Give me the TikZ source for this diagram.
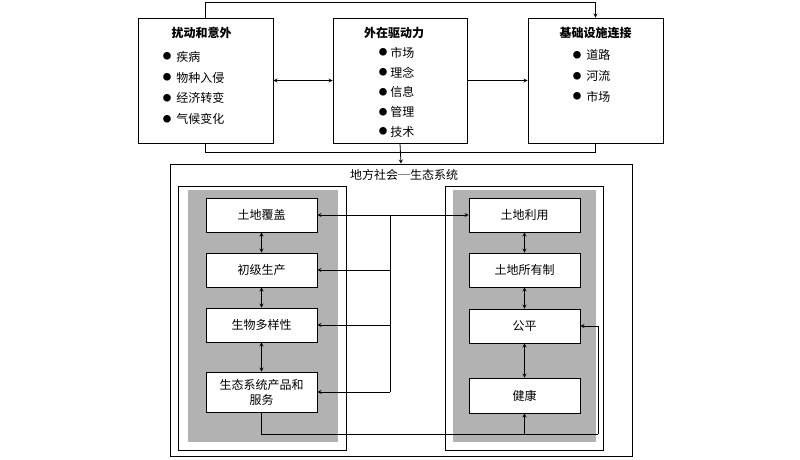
\documentclass[tikz,border=0pt]{standalone}
\usepackage{fontspec}
\setmainfont{Noto Sans CJK SC}
\usetikzlibrary{arrows}
\newcommand{\itemdot}[1][5pt]{\raisebox{1.4pt}{\fontsize{8.5}{8.5}\selectfont ●}\hspace{#1}}
\tikzstyle{topbox} = [rectangle, draw, line width=0.8pt, minimum width=135pt, minimum height=125pt]
\tikzstyle{heading} = [font=\bfseries\fontsize{12}{14}\selectfont]
\tikzstyle{items} = [anchor=north west, align=left, inner sep=0pt, font=\fontsize{12}{20.7}\selectfont]
\tikzstyle{frame} = [rectangle, draw, line width=0.8pt, minimum height=264pt]
\tikzstyle{shade} = [fill=black!30]
\tikzstyle{process} = [rectangle, draw, line width=0.8pt, fill=white, minimum width=111pt, minimum height=34pt, text centered, align=center, font=\fontsize{12}{15}\selectfont]
\tikzstyle{arrow} = [line width=0.8pt,->,>=stealth]
\tikzstyle{darrow} = [line width=0.8pt,<->,>=stealth]
\tikzstyle{line} = [line width=0.8pt]
\begin{document}
\begin{tikzpicture}[x=1pt, y=-1pt]
            \useasboundingbox (0,0) rectangle (800,459);
            \node [topbox] at (205.5,80.5) (disturb) {};
            \node [topbox, minimum width=134pt] at (400,80.5) (driver) {};
            \node [topbox] at (595.5,80.5) (infra) {};
            \node [heading] at (201.5,33) (disturbtitle) {扰动和意外};
            \node [heading] at (394,33) (drivertitle) {外在驱动力};
            \node [heading] at (595.5,33) (infratitle) {基础设施连接};
            \node [items] at (162.75,51) (disturblist) {\itemdot 疾病\\\itemdot 物种入侵\\\itemdot 经济转变\\\itemdot 气候变化};
            \node [items, font=\fontsize{12}{19.75}\selectfont] at (378.75,47) (driverlist) {\itemdot[2.8pt]市场\\\itemdot[2.8pt]理念\\\itemdot[2.8pt]信息\\\itemdot[2.8pt]管理\\\itemdot[2.8pt]技术};
            \node [items] at (572.75,49.5) (infralist) {\itemdot 道路\\\itemdot 河流\\\itemdot 市场};

            \node [rectangle, draw, line width=0.8pt, minimum width=462pt, minimum height=292pt] at (401,310) (ses) {};
            \node at (404,175) (sestitle) {\fontsize{12}{14}\selectfont 地方社会─生态系统};
            \node [frame, minimum width=168pt] at (262,318) (ecoframe) {};
            \node [frame, minimum width=158pt] at (524,318) (socframe) {};
            \fill [shade] (188,190) rectangle (338,442);
            \fill [shade] (453,190) rectangle (596,442);

            \node [process] at (261.5,215) (cover) {土地覆盖};
            \node [process] at (261.5,270) (prod) {初级生产};
            \node [process] at (261.5,325) (biodiv) {生物多样性};
            \node [process, minimum height=40pt] at (261.5,392) (service) {生态系统产品和\\服务};
            \node [process] at (524.5,215) (use) {土地利用};
            \node [process] at (524.5,270) (tenure) {土地所有制};
            \node [process] at (524.5,326) (equity) {公平};
            \node [process, minimum height=35pt] at (524.5,395.5) (health) {健康};

            \draw [arrow] (disturb.north) -- ++(0,-15) -| (infra.north);
            \draw [line] (disturb.south) -- ++(0,9) -| (infra.south);
            \draw [arrow] (driver.south) -- (ses.north);
            \draw [darrow] (disturb) -- (driver);
            \draw [arrow] (driver) -- (infra);

            \draw [darrow] (cover) -- (use);
            \coordinate (bus) at (390,215);
            \draw [line] (bus) -- (bus |- service);
            \draw [arrow] (bus |- prod) -- (prod.east);
            \draw [arrow] (bus |- biodiv) -- (biodiv.east);
            \draw [arrow] (bus |- service) -- (service.east);
            \draw [darrow] (cover) -- (prod);
            \draw [darrow] (prod) -- (biodiv);
            \draw [darrow] (biodiv) -- (service);
            \draw [darrow] (use) -- (tenure);
            \draw [darrow] (tenure) -- (equity);
            \draw [darrow] (equity) -- (health);
            \coordinate (loop) at (598,434);
            \draw [line] (service.south) |- (loop);
            \draw [arrow] (loop) |- (equity.east);
            \draw [arrow] (health.south |- loop) -- (health.south);
\end{tikzpicture}
\end{document}
